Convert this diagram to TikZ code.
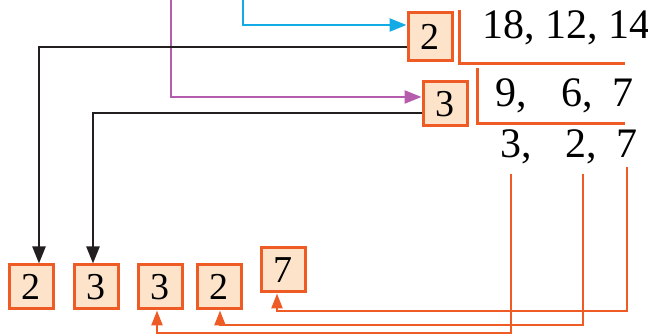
\documentclass[tikz,border=0pt]{standalone}
\usepackage{fontspec}
\setmainfont{Liberation Serif}
\usetikzlibrary{arrows.meta,positioning,calc}
\definecolor{divline}{HTML}{EF5B25}
\definecolor{divfill}{HTML}{FDE3C9}
\definecolor{cyanline}{HTML}{13ABE6}
\definecolor{purpline}{HTML}{B65CAD}
\definecolor{inkline}{HTML}{231F20}
\tikzset{
  numbox/.style={draw=divline,line width=1.5pt,fill=divfill,minimum width=22pt,minimum height=22pt,inner sep=0pt,font=\fontsize{19}{21}\selectfont},
  rownum/.style={anchor=base,inner sep=0pt,font=\fontsize{21}{24}\selectfont},
  tip/.style={-{Triangle[length=8.5pt,width=6.5pt]}},
  smalltip/.style={-{Triangle[length=7.5pt,width=5.5pt]}},
  conn/.style={line width=1.2pt},
}

\begin{document}
\begin{tikzpicture}[x=0.5pt,y=-0.5pt]
  \useasboundingbox (0,0) rectangle (648,335);

  % Divisors
  \node[numbox,minimum height=24pt] (d1) at (430,37) {2};
  \node[numbox] (d2) at (445,104) {3};

  % Division rows
  \node[rownum,anchor=base west] (row1) at (482,39) {18, 12, 14};
  \node[rownum] (b1) at (506,107) {9\rlap{,}};
  \node[rownum] (b2) at (572,107) {6\rlap{,}};
  \node[rownum] (b3) at (623,107) {7};
  \node[rownum] (c1) at (511,158) {3\rlap{,}};
  \node[rownum] (c2) at (576,158) {2\rlap{,}};
  \node[rownum] (c3) at (627,158) {7};

  % Brackets
  \draw[divline,line width=1.5pt] (459,10) |- (625,64);
  \draw[divline,line width=1.5pt] (477,68) |- (625,124);

  % Result factors
  \node[numbox] (r1) at (31,287) {2};
  \node[numbox] (r2) at (96,287) {3};
  \node[numbox] (r3) at (160,287) {3};
  \node[numbox] (r4) at (219,287) {2};
  \node[numbox] (r5) at (283,270) {7};

  % Incoming arrows
  \coordinate (cyantop) at (243,0);
  \coordinate (purptop) at (171,0);
  \draw[cyanline,conn,tip] (cyantop) |- ([yshift=6pt]d1.west);
  \draw[purpline,conn,tip] (purptop) |- ([yshift=3.5pt]d2.west);

  % Divisors down to factors
  \draw[inkline,conn,tip] ([yshift=-5pt]d1.west) -| ([xshift=4pt]r1.north);
  \draw[inkline,conn,tip] ([yshift=-4.5pt]d2.west) -| ([xshift=-1.5pt]r2.north);

  % Last row up to factors
  \coordinate (low1) at (0,333);
  \coordinate (low2) at (0,325);
  \coordinate (low3) at (0,311);
  \draw[divline,conn,smalltip] ([yshift=-4.5pt]c1.south) -- (c1.south |- low1) -| ([xshift=-1.5pt]r3.south);
  \draw[divline,conn,smalltip] ([xshift=3.5pt,yshift=-4.5pt]c2.south) -- ([xshift=3.5pt]c2.south |- low2) -| ([xshift=0.5pt]r4.south);
  \draw[divline,conn,smalltip] ([yshift=-4.5pt]c3.south) -- (c3.south |- low3) -| ([xshift=-3pt]r5.south);
\end{tikzpicture}
\end{document}
